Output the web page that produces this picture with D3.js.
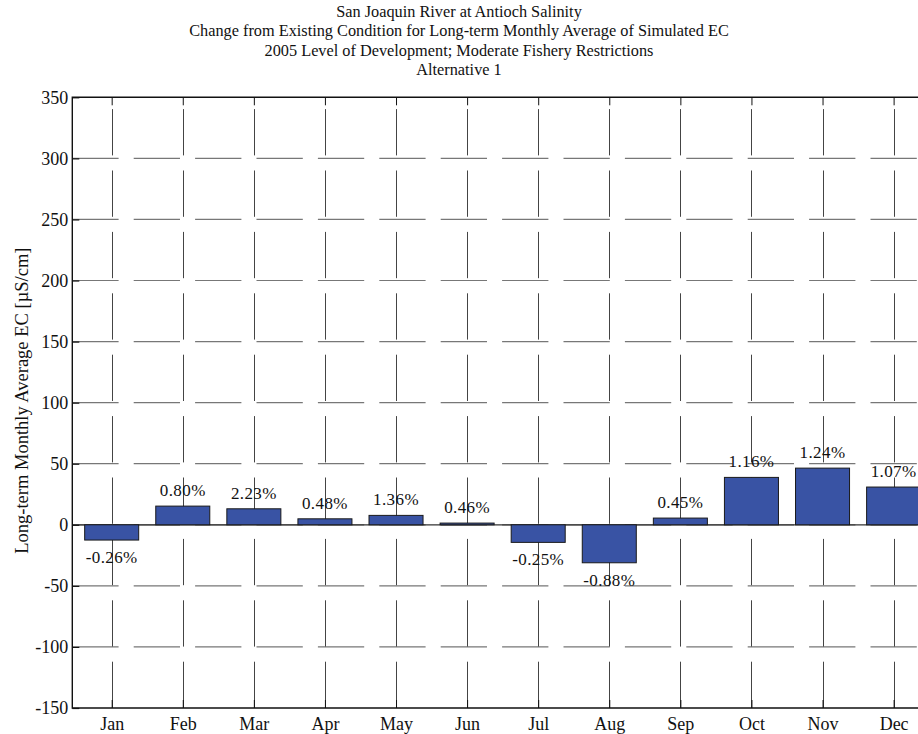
<!DOCTYPE html>
<html>
<head>
<meta charset="utf-8">
<script src="https://cdn.jsdelivr.net/npm/d3@7"></script>
<style>
  html, body { margin: 0; padding: 0; background: #fff; }
  svg { display: block; }
  text { font-family: "Liberation Serif", "Times New Roman", serif; fill: #111; }
</style>
</head>
<body>
<script>
const titleLines = [
  "San Joaquin River at Antioch Salinity",
  "Change from Existing Condition for Long-term Monthly Average of Simulated EC",
  "2005 Level of Development; Moderate Fishery Restrictions",
  "Alternative 1"
];
const yAxisLabel = "Long-term Monthly Average EC [µS/cm]";
const months = ["Jan", "Feb", "Mar", "Apr", "May", "Jun", "Jul", "Aug", "Sep", "Oct", "Nov", "Dec"];
const changeValues = [-12.5, 15.3, 13.1, 4.9, 7.7, 1.4, -14.4, -31.1, 5.5, 38.8, 46.4, 30.9];
const percentLabels = ["-0.26%", "0.80%", "2.23%", "0.48%", "1.36%", "0.46%", "-0.25%", "-0.88%", "0.45%", "1.16%", "1.24%", "1.07%"];
const yTicks = [-150, -100, -50, 0, 50, 100, 150, 200, 250, 300, 350];

(function () {
const W = 918, H = 734;
const pLeft = 72.3, pTop = 97.3, pBottom = 708;
const svg = d3.select("body").append("svg").attr("width", W).attr("height", H);

const x = d3.scaleLinear().domain([0.446, 12.554]).range([pLeft, 933]);
const y = d3.scaleLinear().domain([-150, 350]).range([pBottom, pTop]);
const pRight = x.range()[1];
const barW = x(1.76) - x(1);

// title
svg.append("g").selectAll("text").data(titleLines).join("text")
  .attr("x", W / 2).attr("y", (d, i) => 17 + i * 19.4)
  .attr("text-anchor", "middle").attr("font-size", 16.3).text(d => d);

// grid
const grid = svg.append("g").attr("stroke", "#777").attr("stroke-width", 1.2).attr("fill", "none");
grid.selectAll("line.h").data(yTicks.filter(t => t > -150 && t < 350)).join("line")
  .attr("class", "h")
  .attr("x1", pLeft).attr("x2", pRight)
  .attr("y1", d => y(d)).attr("y2", d => y(d))
  .attr("stroke-dasharray", "46.3,15.1");
grid.selectAll("line.v").data(d3.range(1, 13)).join("line")
  .attr("class", "v")
  .attr("x1", d => Math.round(x(d)) + 0.5).attr("x2", d => Math.round(x(d)) + 0.5)
  .attr("y1", pBottom).attr("y2", pTop)
  .attr("stroke", "#444").attr("stroke-width", 1)
  .attr("stroke-dasharray", "46.3,15.1");

// baseline
svg.append("line").attr("x1", pLeft).attr("x2", pRight)
  .attr("y1", y(0)).attr("y2", y(0)).attr("stroke", "#333").attr("stroke-width", 1.2);

// bars
svg.append("g").selectAll("rect").data(changeValues).join("rect")
  .attr("x", (d, i) => x(i + 1) - barW / 2)
  .attr("width", barW)
  .attr("y", d => Math.min(y(d), y(0)))
  .attr("height", d => Math.max(1, Math.abs(y(d) - y(0))))
  .attr("fill", "#3953a4")
  .attr("stroke", "#1a1a1a").attr("stroke-width", 1);

// percent labels
svg.append("g").selectAll("text").data(changeValues).join("text")
  .attr("x", (d, i) => x(i + 1))
  .attr("y", d => d >= 0 ? y(d) - 10 : y(d) + 23)
  .attr("text-anchor", "middle").attr("font-size", 17)
  .attr("letter-spacing", 0.4)
  .text((d, i) => percentLabels[i]);

// axes box
const axisG = svg.append("g");
axisG.append("path")
  .attr("d", `M${pRight},${pTop}H${pLeft}V${pBottom}H${pRight}`)
  .attr("fill", "none").attr("stroke", "#111").attr("stroke-width", 1.4);

// y axis ticks (inward) and labels
const yAxis = d3.axisLeft(y).tickValues(yTicks).tickSize(-7).tickPadding(4).tickFormat(d => String(d));
const yg = axisG.append("g").attr("transform", `translate(${pLeft},0)`).call(yAxis);
yg.attr("font-family", null).attr("font-size", null);
yg.select(".domain").remove();
yg.selectAll(".tick line").attr("stroke", "#111").attr("stroke-width", 1.2);
yg.selectAll(".tick text").attr("font-size", 18).attr("fill", "#111");

// x axis bottom ticks (inward) and labels
const xAxis = d3.axisBottom(x).tickValues(d3.range(1, 13)).tickSize(-8).tickPadding(9)
  .tickFormat(d => months[d - 1]);
const xg = axisG.append("g").attr("transform", `translate(0,${pBottom})`).call(xAxis);
xg.attr("font-family", null).attr("font-size", null);
xg.select(".domain").remove();
xg.selectAll(".tick line").attr("stroke", "#111").attr("stroke-width", 1);
xg.selectAll(".tick text").attr("font-size", 18).attr("fill", "#111");

// top ticks (inward)
const xTop = d3.axisTop(x).tickValues(d3.range(1, 13)).tickSize(-8).tickFormat("");
const xtg = axisG.append("g").attr("transform", `translate(0,${pTop})`).call(xTop);
xtg.select(".domain").remove();
xtg.selectAll(".tick line").attr("stroke", "#111").attr("stroke-width", 1);

// y label
svg.append("text")
  .attr("transform", `translate(28,${(pTop + pBottom) / 2 - 2}) rotate(-90)`)
  .attr("text-anchor", "middle").attr("font-size", 18.5).text(yAxisLabel);
})();
</script>
</body>
</html>
